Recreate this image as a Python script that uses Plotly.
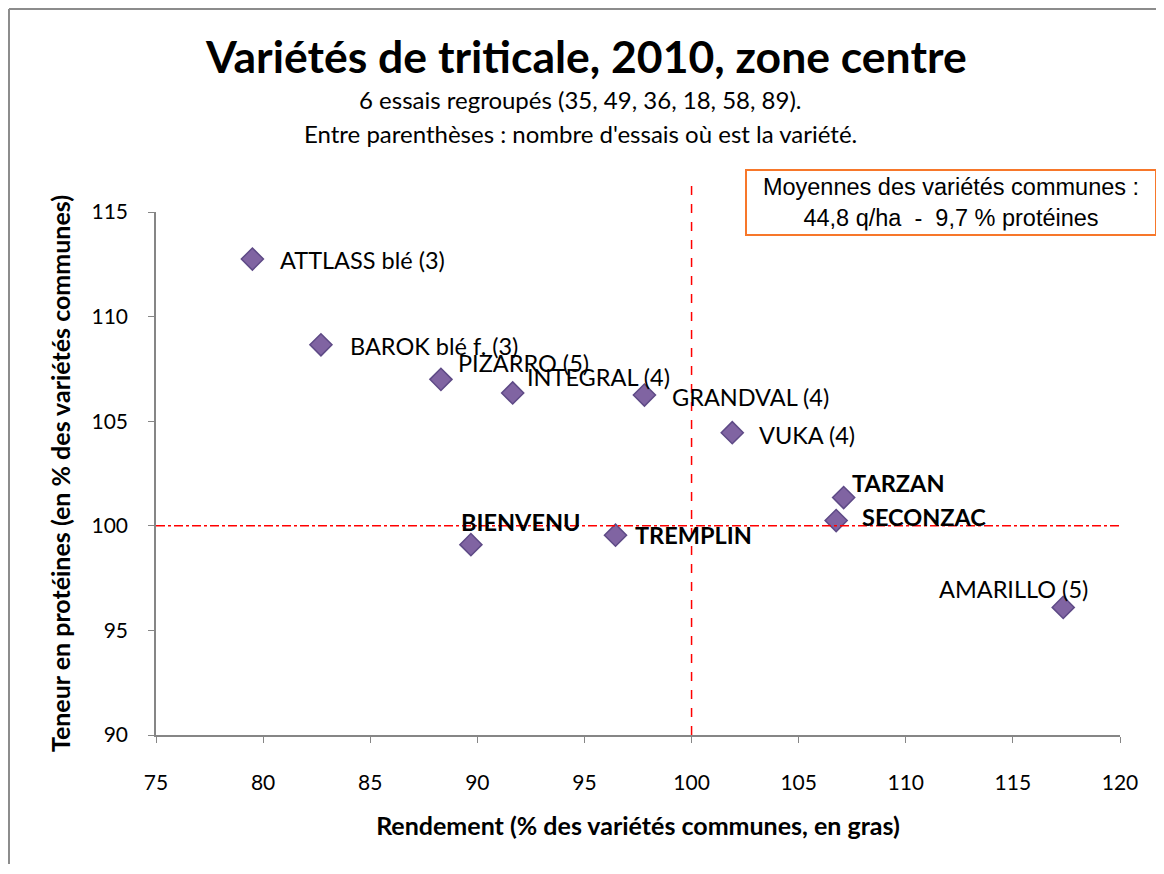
import plotly.graph_objects as go

# ---- data ----
varieties = ["ATTLASS blé (3)", "BAROK blé f. (3)", "PIZARRO (5)", "INTEGRAL (4)",
             "GRANDVAL (4)", "VUKA (4)", "TARZAN", "SECONZAC", "BIENVENU",
             "TREMPLIN", "AMARILLO (5)"]
rendement = [79.5, 82.7, 88.3, 91.65, 97.8, 101.9, 107.1, 106.75, 89.7, 96.45, 117.35]
proteines = [112.75, 108.65, 107.0, 106.35, 106.25, 104.45, 101.35, 100.25, 99.1, 99.55, 96.1]
bold_label = [False, False, False, False, False, False, True, True, True, True, False]

x_ticks = [75, 80, 85, 90, 95, 100, 105, 110, 115, 120]
y_ticks = [90, 95, 100, 105, 110, 115]
ref_x = 100
ref_y = 100

# label placement (pixel offsets from the marker)
label_dx = [26, 27, 15, 12, 26, 25, 6, 24, -12, 17, -126]
label_dy = [-1, -1, 16, 16, -2, -2, 15, 4, 23, 0, 18]

FONT = "Lato"
fig = go.Figure()

fig.add_trace(go.Scatter(
    x=rendement, y=proteines, mode="markers",
    marker=dict(symbol="diamond", size=17, color="#8064A2",
                line=dict(color="#5E4A86", width=1.5)),
    hoverinfo="text", text=varieties, showlegend=False, cliponaxis=False))

for name, xv, yv, b, dx, dy in zip(varieties, rendement, proteines, bold_label, label_dx, label_dy):
    fig.add_annotation(x=xv, y=yv, text=f"<b>{name}</b>" if b else name,
                       showarrow=False, xanchor="left", yanchor="middle",
                       xshift=dx, yshift=dy,
                       font=dict(family=FONT, size=23.5, color="#000000"))

# reference lines
fig.add_shape(type="line", xref="x", yref="y", x0=x_ticks[0], x1=x_ticks[-1], y0=ref_y, y1=ref_y,
              line=dict(color="#FF0000", width=1.5, dash="dashdot"))
fig.add_shape(type="line", xref="x", yref="paper", x0=ref_x, x1=ref_x, y0=0, y1=1.055,
              line=dict(color="#FF0000", width=1.5, dash="dash"))

# outer chart border (left and top)
fig.add_shape(type="line", xref="paper", yref="paper", x0=-0.1525, x1=-0.1525, y0=-0.3, y1=1.388,
              line=dict(color="#8C8C8C", width=2))
fig.add_shape(type="line", xref="paper", yref="paper", x0=-0.1525, x1=1.1, y0=1.388, y1=1.388,
              line=dict(color="#8C8C8C", width=2))

# titles
fig.add_annotation(xref="paper", yref="paper", x=0.446, y=1.300, xanchor="center", yanchor="middle",
                   showarrow=False, text="<b>Variétés de triticale, 2010, zone centre</b>",
                   font=dict(family=FONT, size=44.5, color="#000000"))
fig.add_annotation(xref="paper", yref="paper", x=0.440, y=1.216, xanchor="center", yanchor="middle",
                   showarrow=False, text="6 essais regroupés (35, 49, 36, 18, 58, 89).",
                   font=dict(family=FONT, size=24, color="#000000"))
fig.add_annotation(xref="paper", yref="paper", x=0.440, y=1.151, xanchor="center", yanchor="middle",
                   showarrow=False, text="Entre parenthèses : nombre d'essais où est la variété.",
                   font=dict(family=FONT, size=24, color="#000000"))

# mean box
fig.add_annotation(xref="paper", yref="paper", x=0.8247, y=1.019, xanchor="center", yanchor="middle",
                   showarrow=False,
                   text="Moyennes des variétés communes :<br>44,8 q/ha  -  9,7 % protéines",
                   font=dict(family="Liberation Sans", size=23.5, color="#000000"),
                   bordercolor="#F7772A", borderwidth=2, borderpad=3, bgcolor="white",
                   width=402, align="center")

axis_common = dict(showgrid=False, zeroline=False, showline=True, linecolor="#868686",
                   linewidth=1.5, ticks="outside", tickcolor="#868686", ticklen=6,
                   tickfont=dict(family=FONT, size=21, color="#000000"))

fig.update_xaxes(range=[x_ticks[0], x_ticks[-1]], tickvals=x_ticks, ticklabelstandoff=22,
                 **axis_common,
                 title=dict(text="<b>Rendement (% des variétés communes, en gras)</b>",
                            font=dict(family=FONT, size=25, color="#000000"), standoff=25))
fig.update_yaxes(range=[y_ticks[0], y_ticks[-1]], tickvals=y_ticks, ticklabelstandoff=16,
                 **axis_common,
                 title=dict(text="<b>Teneur en protéines (en % des variétés communes)</b>",
                            font=dict(family=FONT, size=25, color="#000000"), standoff=14))

fig.update_layout(width=1148, height=856, plot_bgcolor="white", paper_bgcolor="white",
                  margin=dict(l=148, r=36, t=204, b=129), showlegend=False)

fig.write_html("out.html")
